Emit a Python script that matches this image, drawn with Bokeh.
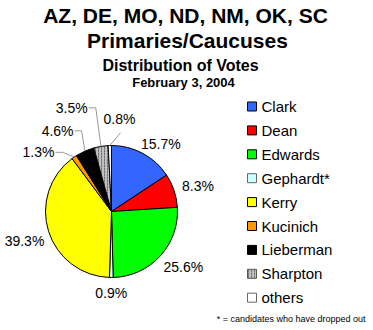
import math
from bokeh.plotting import figure
from bokeh.models import Range1d, ColumnDataSource
from bokeh.core.properties import value
from bokeh.embed import file_html
from bokeh.resources import INLINE

# ---- data ----
candidates = ["Clark", "Dean", "Edwards", "Gephardt*", "Kerry", "Kucinich", "Lieberman", "Sharpton", "others"]
shares = [15.7, 8.3, 25.6, 0.9, 39.3, 1.3, 4.6, 3.5, 0.8]
pct_labels = ["15.7%", "8.3%", "25.6%", "0.9%", "39.3%", "1.3%", "4.6%", "3.5%", "0.8%"]
title_lines = ["AZ, DE, MO, ND, NM, OK, SC", "Primaries/Caucuses", "Distribution of Votes", "February 3, 2004"]
footnote = "* = candidates who have dropped out"

# ---- styles ----
colors = ["#3366FF", "#FF0000", "#00FF00", "#CCFFFF", "#FFFF00", "#FF9900", "#000000", "#C0C0C0", "#FFFFFF"]
hatch = ["", "", "", "", "", "", "", ":", ""]
edge = ["black", "black", "black", "#666666", "black", "black", "black", "#555555", "#666666"]
FONT = value("Liberation Sans")

W, H = 373, 330
def sy(y):  # screen y (top-down) -> data y
    return H - y

p = figure(width=W, height=H, x_range=Range1d(0, W), y_range=Range1d(0, H),
           output_backend="svg", toolbar_location=None, min_border=0,
           x_axis_location=None, y_axis_location=None)
p.grid.visible = False
p.outline_line_color = None
p.background_fill_color = "white"
p.border_fill_color = "white"

# ---- pie ----
cx, cy, R = 111, sy(211), 66
total = sum(shares)
starts, ends, mids = [], [], []
cum = 0.0
for v in shares:
    a0 = math.pi / 2 - 2 * math.pi * cum / total
    cum += v
    a1 = math.pi / 2 - 2 * math.pi * cum / total
    starts.append(a0); ends.append(a1); mids.append((a0 + a1) / 2)

src = ColumnDataSource(dict(start=starts, end=ends, color=colors, hatch=hatch, edge=edge))
p.wedge(x=cx, y=cy, radius=R, start_angle="start", end_angle="end", direction="clock",
        fill_color="color", line_color="black", line_width=1,
        hatch_pattern="hatch", hatch_color="#707070", hatch_scale=3, source=src)

# ---- percentage labels (angle shift deg, radius, kind) ----
label_layout = [(-7.7, 84, "center"), (-2.3, 90, "center"), (4.6, 91, "center"),
                (0, 82, "center"), (1.5, 92, "center"),
                (16.6, 94, "leader"), (10, 97, "leader"), (11.8, 111, "leader"), (-6.4, 93, "center_leader")]
lx, ly, lt = [], [], []
for i, (shift, rr, kind) in enumerate(label_layout):
    ang = mids[i] + math.radians(shift)
    x = cx + rr * math.cos(ang)
    y = cy + rr * math.sin(ang)
    ax_, ay_ = cx + R * math.cos(mids[i]), cy + R * math.sin(mids[i])
    if kind == "leader":
        xr = x + 16
        p.line([ax_, xr + 8, xr + 1], [ay_, y, y], line_color="#999999", line_width=1)
    elif kind == "center_leader":
        p.line([ax_, x + 1], [ay_, y - 14], line_color="#999999", line_width=1)
    lx.append(x); ly.append(y); lt.append(pct_labels[i])

p.text(x=lx, y=ly, text=lt, text_align="center", text_baseline="middle",
       text_font=FONT, text_font_size="14px", text_color="black")

# ---- legend ----
leg_y0, leg_dy = 106, 23.9
ly_leg = [sy(leg_y0 + i * leg_dy) for i in range(len(candidates))]
p.rect(x=[251.5] * len(candidates), y=ly_leg, width=9, height=9,
       fill_color=colors, line_color=edge, line_width=1,
       hatch_pattern=hatch, hatch_color="#707070", hatch_scale=3)
p.text(x=[261] * len(candidates), y=ly_leg, text=candidates, text_align="left",
       text_baseline="middle", text_font=FONT, text_font_size="15px", text_color="black")

# ---- titles ----
t_y = [15, 40, 65, 82]
t_x = [185, 187, 180, 183]
t_size = ["21px", "21px", "16px", "13px"]
for s, x, y, fs in zip(title_lines, t_x, t_y, t_size):
    p.text(x=[x], y=[sy(y)], text=[s], text_align="center", text_baseline="middle",
           text_font=FONT, text_font_style="bold", text_font_size=fs, text_color="black")

p.text(x=[365], y=[sy(318)], text=[footnote], text_align="right", text_baseline="middle",
       text_font=FONT, text_font_size="9px", text_color="black")

open("out.html", "w").write(file_html(p, INLINE))
